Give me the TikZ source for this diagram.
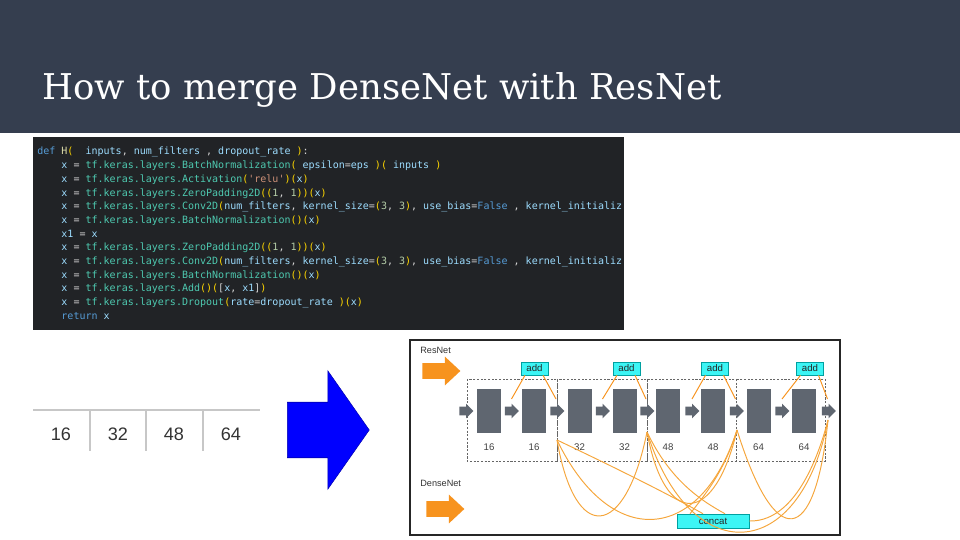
\documentclass[tikz,border=0pt]{standalone}
\usepackage{fontspec}
\setmonofont{DejaVu Sans Mono}
\newfontfamily\titlefont{DejaVu Serif}
\newfontfamily\labfont{Liberation Sans}
\usetikzlibrary{shapes.arrows}
\usetikzlibrary{positioning}

\definecolor{header}{RGB}{53,62,79}
\definecolor{codebg}{RGB}{33,35,38}
\definecolor{codetxt}{RGB}{212,212,212}
\definecolor{codekw}{RGB}{86,156,214}
\definecolor{codefn}{RGB}{220,220,170}
\definecolor{codepar}{RGB}{255,215,0}
\definecolor{codeid}{RGB}{156,220,254}
\definecolor{codelib}{RGB}{78,201,176}
\definecolor{codestr}{RGB}{206,145,120}
\definecolor{codenum}{RGB}{181,206,168}
\definecolor{blockgray}{RGB}{95,102,112}
\definecolor{netorange}{RGB}{247,147,30}
\definecolor{denseline}{RGB}{245,166,60}
\definecolor{addcyan}{RGB}{60,245,245}
\definecolor{addedge}{RGB}{0,160,160}

\tikzstyle{codeline}  = [anchor=base west, inner sep=0pt, text=codetxt, font=\ttfamily\fontsize{5.7}{6.8}\selectfont]
\tikzstyle{tabnum}    = [inner sep=0pt, text=black!80, font=\labfont\fontsize{10.3}{12}\selectfont]
\tikzstyle{tabline}   = [draw=black!22, line width=0.8pt]
\tikzstyle{convblock} = [fill=blockgray, inner sep=0pt, minimum width=0.48cm, minimum height=0.88cm]
\tikzstyle{flowarrow} = [single arrow, fill=blockgray, inner xsep=0pt, inner ysep=0.08cm, minimum height=0.28cm, single arrow head extend=0.06cm, single arrow tip angle=90]
\tikzstyle{netarrow}  = [single arrow, fill=netorange, inner xsep=0pt, inner ysep=0.15cm, minimum height=0.76cm, single arrow head extend=0.13cm, single arrow tip angle=86]
\tikzstyle{bigarrow}  = [single arrow, fill=blue, draw=blue!70!black, line width=0.3pt, inner xsep=0pt, inner ysep=0.55cm, minimum height=1.64cm, single arrow head extend=0.63cm, single arrow tip angle=110]
\tikzstyle{stagebox}  = [draw=black!60, line width=0.35pt, dash pattern=on 1.2pt off 0.9pt]
\tikzstyle{addbox}    = [draw=addedge, fill=addcyan, line width=0.3pt, inner sep=0pt, minimum width=0.54cm, minimum height=0.26cm, text=black!85, font=\labfont\fontsize{5.5}{6}\selectfont]
\tikzstyle{chan}      = [inner sep=0pt, text=black!75, font=\labfont\fontsize{5.5}{6}\selectfont]
\tikzstyle{netlabel}  = [inner sep=0pt, text=black!80, font=\labfont\fontsize{5.2}{6}\selectfont]
\tikzstyle{resline}   = [draw=netorange, line width=0.55pt]
\tikzstyle{dense}     = [draw=denseline, line width=0.55pt]

\newcommand{\cKw}[1]{\textcolor{codekw}{#1}}
\newcommand{\cFn}[1]{\textcolor{codefn}{#1}}
\newcommand{\cPa}[1]{\textcolor{codepar}{#1}}
\newcommand{\cId}[1]{\textcolor{codeid}{#1}}
\newcommand{\cLy}[1]{\textcolor{codelib}{tf.keras.layers.#1}}
\newcommand{\cSt}[1]{\textcolor{codestr}{#1}}
\newcommand{\cNu}[1]{\textcolor{codenum}{#1}}
\newcommand{\cInd}{\phantom{def\ }}

\begin{document}
\begin{tikzpicture}[x=0.02cm,y=-0.02cm]
  \useasboundingbox (0,0) rectangle (960,540);
  % Title bar
  \fill[header] (0,0) rectangle (960,133);
  \node[anchor=base west, inner sep=0pt, text=white, font=\titlefont\fontsize{20.2}{24}\selectfont] (title)
    at (42,100) {How to merge DenseNet with ResNet};

  % Code block
  \fill[codebg] (33,137) rectangle (624,330);
  \begin{scope}
    \clip (33,137) rectangle (624,330);
    \foreach \codeln [count=\i] in {
      {\cKw{def} \cFn{H}\cPa{(}\ \ \cId{inputs}, \cId{num\_filters} , \cId{dropout\_rate} \cPa{)}:},
      {\cInd\cId{x} = \cLy{BatchNormalization}\cPa{(} \cId{epsilon}=\cId{eps} \cPa{)(} \cId{inputs} \cPa{)}},
      {\cInd\cId{x} = \cLy{Activation}\cPa{(}\cSt{'relu'}\cPa{)(}\cId{x}\cPa{)}},
      {\cInd\cId{x} = \cLy{ZeroPadding2D}\cPa{((}\cNu{1}, \cNu{1}\cPa{))(}\cId{x}\cPa{)}},
      {\cInd\cId{x} = \cLy{Conv2D}\cPa{(}\cId{num\_filters}, \cId{kernel\_size}=\cPa{(}\cNu{3}, \cNu{3}\cPa{)}, \cId{use\_bias}=\cKw{False} , \cId{kernel\_initializ}},
      {\cInd\cId{x} = \cLy{BatchNormalization}\cPa{()(}\cId{x}\cPa{)}},
      {\cInd\cId{x1} = \cId{x}},
      {\cInd\cId{x} = \cLy{ZeroPadding2D}\cPa{((}\cNu{1}, \cNu{1}\cPa{))(}\cId{x}\cPa{)}},
      {\cInd\cId{x} = \cLy{Conv2D}\cPa{(}\cId{num\_filters}, \cId{kernel\_size}=\cPa{(}\cNu{3}, \cNu{3}\cPa{)}, \cId{use\_bias}=\cKw{False} , \cId{kernel\_initializ}},
      {\cInd\cId{x} = \cLy{BatchNormalization}\cPa{()(}\cId{x}\cPa{)}},
      {\cInd\cId{x} = \cLy{Add}\cPa{()(}[\cId{x}, \cId{x1}]\cPa{)}},
      {\cInd\cId{x} = \cLy{Dropout}\cPa{(}\cId{rate}=\cId{dropout\_rate} \cPa{)(}\cId{x}\cPa{)}},
      {\cInd\cKw{return} \cId{x}}}
      \node[codeline] (line\i) at (37,{141.33+13.67*\i}) {\codeln};
  \end{scope}

  % Filter table
  \draw[tabline] (33,410) -- (260,410);
  \foreach \tx in {90,146,203}
    \draw[tabline] (\tx,410) -- (\tx,451);
  \foreach \tx/\lab in {61/16,118/32,174/48,231/64}
    \node[tabnum] (t\lab) at (\tx,434) {\lab};

  % Big arrow
  \node[bigarrow, anchor=tail] (bigarrow) at (287,430) {};

  % Network picture
  \draw[draw=black!85, line width=0.8pt] (410,340) rectangle (840,535);
  \foreach \xa/\xb in {467/557,557/647,647/736,736/825}
    \draw[stagebox] (\xa,379) rectangle (\xb,461);
  \node[netlabel, anchor=west] (resname) at (420,350) {ResNet};
  \node[netarrow, anchor=tail] (resarrow) at (422,371) {};
  \node[netlabel, anchor=west] (densename) at (420,483) {DenseNet};
  \node[netarrow, anchor=tail] (densearrow) at (426,509) {};

  \foreach \cx/\lab [count=\k] in {489/16,534/16,579.5/32,624.5/32,668/48,713/48,758.5/64,804/64} {
    \node[convblock] (r\k) at (\cx,411) {};
    \node[chan, below=0.21cm of r\k] (c\k) {\lab};
  }
  \foreach \tx [count=\k from 0] in {459,504.5,550,595.5,640,685,729.5,775,821.5}
    \node[flowarrow, anchor=tail] (a\k) at (\tx,411) {};

  % Residual adds
  \foreach \cx [count=\k] in {534.5,626.5,715,810}
    \node[addbox] (add\k) at (\cx,368.5) {add};
  \foreach \k in {1,...,4} {
    \pgfmathtruncatemacro\ka{2*\k-1}
    \pgfmathtruncatemacro\kb{2*\k}
    \draw[resline] ([xshift=-0.19cm]add\k.south) -- ([shift={(0.14cm,0.24cm)}]a\ka.tail);
    \draw[resline] ([xshift=0.17cm]add\k.south) -- ([shift={(0.12cm,0.24cm)}]a\kb.tail);
  }

  % Dense links
  \node[addbox, minimum width=1.44cm, minimum height=0.28cm] (concat) at (713,521) {concat};
  \coordinate (b1) at (557,440);
  \coordinate (b2) at (647,432);
  \coordinate (b3) at (737,430);
  \coordinate (b4) at (828,420);
  \draw[dense] (b1) .. controls (575,545) and (625,540) .. (b2);
  \draw[dense] (b1) .. controls (610,550) and (700,545) .. (b3);
  \draw[dense] (b1) .. controls (620,470) and (670,495) .. ([xshift=-0.2cm]concat.north);
  \draw[dense] (b2) .. controls (665,530) and (715,525) .. (b3);
  \draw[dense] (b2) .. controls (670,480) and (700,500) .. ([xshift=0.24cm]concat.north);
  \draw[dense] (b3) .. controls (725,470) and (705,495) .. ([xshift=-0.46cm]concat.north);
  \draw[dense] (b2) .. controls (690,570) and (800,565) .. (b4);
  \draw[dense] (b3) .. controls (775,552) and (815,548) .. (b4);
  \draw[dense] (concat.east) .. controls (790,522) and (815,470) .. (b4);
\end{tikzpicture}
\end{document}
